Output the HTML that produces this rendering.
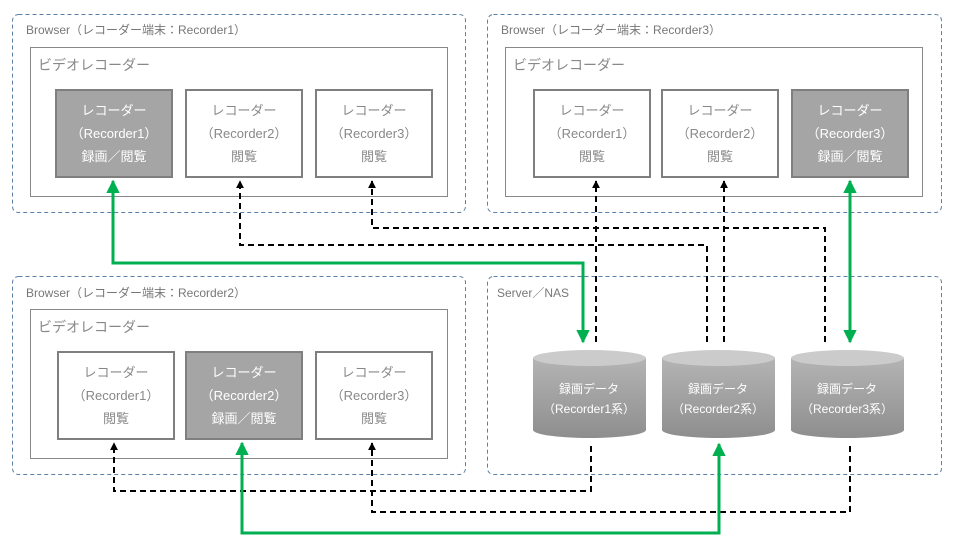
<!DOCTYPE html>
<html><head><meta charset="utf-8"><style>
html,body{margin:0;padding:0;background:#fff;}
svg{display:block;font-family:"Liberation Sans","Noto Sans CJK JP",sans-serif;}
</style></head><body>
<svg width="953" height="549" viewBox="0 0 953 549" xmlns="http://www.w3.org/2000/svg">
<defs>
<linearGradient id="cg" x1="0" y1="0" x2="0" y2="1">
<stop offset="0" stop-color="#b4b4b4"/><stop offset="1" stop-color="#8e8e8e"/>
</linearGradient>
<marker id="ab" viewBox="0 0 10 10" refX="9" refY="5" markerWidth="4" markerHeight="4" orient="auto-start-reverse"><path d="M0,0L10,5L0,10z" fill="#000"/></marker>
<marker id="ag" viewBox="0 0 10 10" refX="9" refY="5" markerWidth="4.5" markerHeight="4.5" orient="auto-start-reverse"><path d="M0,0L10,5L0,10z" fill="#00b050"/></marker>
</defs>
<g fill="none" stroke="#5b7fa6" stroke-width="1" stroke-dasharray="4,3">
<rect x="12.5" y="14.5" width="453" height="198" rx="6"/>
<rect x="487.5" y="14.5" width="454" height="198" rx="6"/>
<rect x="12.5" y="276.5" width="453" height="198" rx="6"/>
<rect x="487.5" y="276.5" width="454" height="198" rx="6"/>
</g>
<g font-size="12" fill="#777">
<text x="26" y="34">Browser（レコーダー端末：Recorder1）</text>
<text x="501" y="34">Browser（レコーダー端末：Recorder3）</text>
<text x="26" y="297">Browser（レコーダー端末：Recorder2）</text>
<text x="497" y="297">Server／NAS</text>
</g>
<g fill="#fff" stroke="#888" stroke-width="1">
<rect x="30.5" y="47.5" width="417" height="149"/>
<rect x="505.5" y="47.5" width="417" height="149"/>
<rect x="30.5" y="309.5" width="417" height="149"/>
</g>
<g font-size="14" fill="#888">
<text x="38" y="70">ビデオレコーダー</text>
<text x="513" y="70">ビデオレコーダー</text>
<text x="38" y="332">ビデオレコーダー</text>
</g>
<g stroke="#7f7f7f" stroke-width="2">
<rect x="56" y="90" width="116" height="87" fill="#a5a5a5"/>
<rect x="186" y="90" width="116" height="87" fill="#fff"/>
<rect x="316" y="90" width="116" height="87" fill="#fff"/>
<rect x="534" y="90" width="116" height="87" fill="#fff"/>
<rect x="662" y="90" width="116" height="87" fill="#fff"/>
<rect x="792" y="90" width="116" height="87" fill="#a5a5a5"/>
<rect x="58" y="352" width="116" height="87" fill="#fff"/>
<rect x="186" y="352" width="116" height="87" fill="#a5a5a5"/>
<rect x="316" y="352" width="116" height="87" fill="#fff"/>
</g>
<g font-size="13" text-anchor="middle">
<g fill="#fff"><text x="114" y="115">レコーダー</text><text x="114" y="138">（Recorder1）</text><text x="114" y="161">録画／閲覧</text></g>
<g fill="#888"><text x="244" y="115">レコーダー</text><text x="244" y="138">（Recorder2）</text><text x="244" y="161">閲覧</text></g>
<g fill="#888"><text x="374" y="115">レコーダー</text><text x="374" y="138">（Recorder3）</text><text x="374" y="161">閲覧</text></g>
<g fill="#888"><text x="592" y="115">レコーダー</text><text x="592" y="138">（Recorder1）</text><text x="592" y="161">閲覧</text></g>
<g fill="#888"><text x="720" y="115">レコーダー</text><text x="720" y="138">（Recorder2）</text><text x="720" y="161">閲覧</text></g>
<g fill="#fff"><text x="850" y="115">レコーダー</text><text x="850" y="138">（Recorder3）</text><text x="850" y="161">録画／閲覧</text></g>
<g fill="#888"><text x="116" y="377">レコーダー</text><text x="116" y="400">（Recorder1）</text><text x="116" y="423">閲覧</text></g>
<g fill="#fff"><text x="244" y="377">レコーダー</text><text x="244" y="400">（Recorder2）</text><text x="244" y="423">録画／閲覧</text></g>
<g fill="#888"><text x="374" y="377">レコーダー</text><text x="374" y="400">（Recorder3）</text><text x="374" y="423">閲覧</text></g>
</g>
<!-- cylinders -->
<g>
<path d="M533,358 L533,430 A56.5,8 0 0 0 646,430 L646,358 Z" fill="url(#cg)"/>
<ellipse cx="589.5" cy="358" rx="56.5" ry="8" fill="#cbcbcb"/>
<path d="M662,358 L662,430 A56.5,8 0 0 0 775,430 L775,358 Z" fill="url(#cg)"/>
<ellipse cx="718.5" cy="358" rx="56.5" ry="8" fill="#cbcbcb"/>
<path d="M791,358 L791,430 A56.5,8 0 0 0 904,430 L904,358 Z" fill="url(#cg)"/>
<ellipse cx="847.5" cy="358" rx="56.5" ry="8" fill="#cbcbcb"/>
</g>
<g font-size="12" fill="#fff" text-anchor="middle">
<text x="589" y="393">録画データ</text><text x="589" y="413">（Recorder1系）</text>
<text x="718" y="393">録画データ</text><text x="718" y="413">（Recorder2系）</text>
<text x="847" y="393">録画データ</text><text x="847" y="413">（Recorder3系）</text>
</g>
<!-- dashed connectors -->
<g fill="none" stroke="#000" stroke-width="2" stroke-dasharray="6,4">
<path d="M596,342 L596,181" marker-end="url(#ab)"/>
<path d="M724,342 L724,181" marker-end="url(#ab)"/>
<path d="M707,342 L707,245 L240,245 L240,181" marker-end="url(#ab)"/>
<path d="M825,342 L825,228 L372,228 L372,181" marker-end="url(#ab)"/>
<path d="M591,446 L591,491 L114,491 L114,443" marker-end="url(#ab)"/>
<path d="M850,446 L850,512 L372,512 L372,443" marker-end="url(#ab)"/>
</g>
<!-- green connectors -->
<g fill="none" stroke="#00b050" stroke-width="3">
<path d="M113,181 L113,263 L583,263 L583,342" marker-start="url(#ag)" marker-end="url(#ag)"/>
<path d="M850,181 L850,342" marker-start="url(#ag)" marker-end="url(#ag)"/>
<path d="M242,443 L242,533 L719,533 L719,444" marker-start="url(#ag)" marker-end="url(#ag)"/>
</g>
</svg>
</body></html>
